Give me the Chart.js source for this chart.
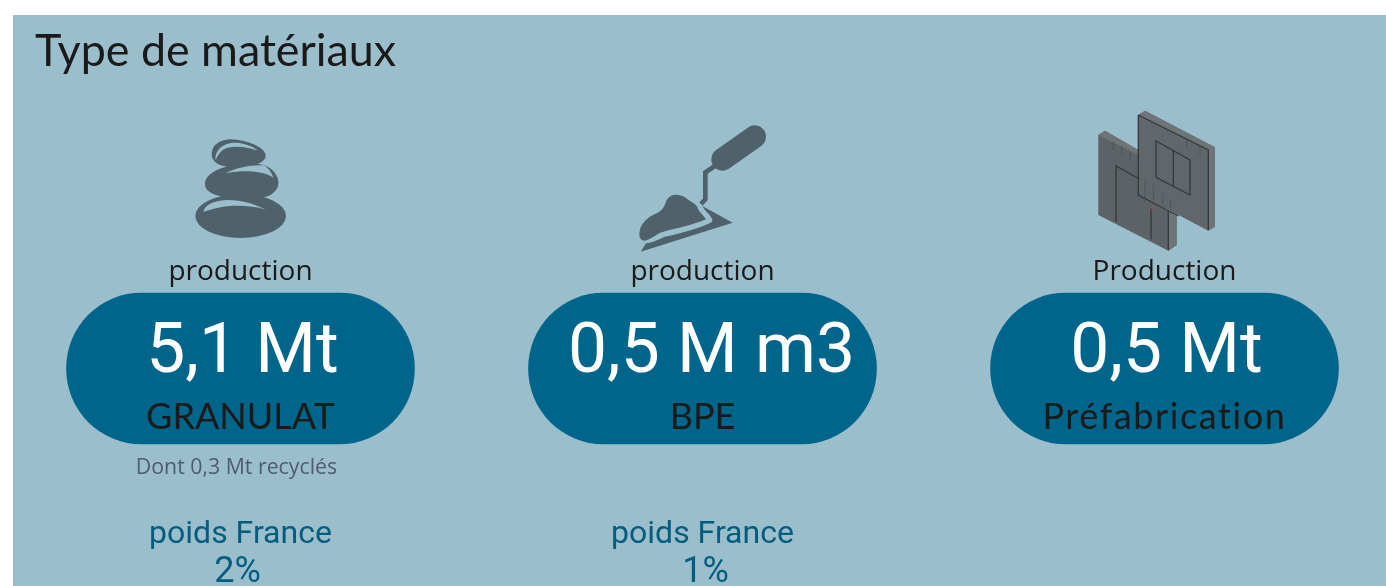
<!DOCTYPE html>
<html lang="fr">
<head>
<meta charset="utf-8">
<title>Type de matériaux</title>
<script src="https://cdn.jsdelivr.net/npm/chart.js@4"></script>
<style>
  html, body { margin: 0; background: #fff; overflow: hidden; }
  #chart { position: absolute; left: 13px; top: 15px; background: #9bbecd; }
</style>
</head>
<body>
<canvas id="chart" width="1373" height="571"></canvas>
<script>
const chartTitle = 'Type de matériaux';
const categories = ['GRANULAT', 'BPE', 'Préfabrication'];
const productionHeads = ['production', 'production', 'Production'];
const productionValues = [5.1, 0.5, 0.5];
const productionUnits = ['Mt', 'M m3', 'Mt'];
const pillFill = [1, 1, 1];
const notes = ['Dont 0,3 Mt recyclés', '', ''];
const weightLabel = 'poids France';
const weightFrance = [2, 1, null];

const panel = '#9bbecd';
const pill = '#00658b';
const iconDark = '#4f626b';
const SANS = '"Open Sans", sans-serif';
const LATO = 'Lato, sans-serif';
const ROBOTO = 'Roboto, sans-serif';

// the texts are not quite centred on the pills in the original
const valueNudge = [2, 9, 2];
const percentNudge = [-3, 3, 0];
const nameSpacing = ['0px', '0px', '1.6px'];

const fr = (n) => n.toLocaleString('fr-FR', { minimumFractionDigits: 1 });

// icons are traced by hand, coordinates are local to each icon
function stones(ctx) {
  ctx.fillStyle = iconDark;
  ctx.fill(new Path2D('M185 132C185 105 210 88 245 88C285 90 347 110 347 138C347 160 300 172 255 172C215 172 185 160 185 132Z'));
  ctx.fill(new Path2D('M165 222C165 195 200 175 240 168C290 155 345 155 372 185C392 210 392 240 355 258C310 275 220 265 190 252C172 243 165 235 165 222Z'));
  ctx.beginPath();
  ctx.ellipse(272, 318, 136, 66, 0, 0, Math.PI * 2);
  ctx.fill();
  ctx.fillStyle = panel;
  ctx.fill(new Path2D('M197 150C194 118 222 97 258 98C285 100 312 110 322 121C285 108 240 105 218 120C208 128 201 140 197 150Z'));
  ctx.fill(new Path2D('M228 190C255 172 310 163 342 166C356 174 366 190 370 203C345 185 290 178 228 190Z'));
  ctx.fill(new Path2D('M160 305C165 285 190 272 230 270C280 270 320 285 348 299C300 285 245 285 205 293C185 297 170 302 160 305Z'));
}

function trowel(ctx) {
  ctx.strokeStyle = iconDark;
  ctx.fillStyle = iconDark;
  ctx.lineCap = 'round';
  ctx.lineWidth = 68;
  ctx.beginPath();
  ctx.moveTo(308, 148);
  ctx.lineTo(404, 80);
  ctx.stroke();
  ctx.lineCap = 'butt';
  ctx.lineWidth = 14;
  ctx.beginPath();
  ctx.moveTo(285, 168);
  ctx.lineTo(256, 187);
  ctx.lineTo(256, 268);
  ctx.lineTo(243, 282);
  ctx.stroke();
  ctx.fill(new Path2D('M58 370C60 340 85 320 110 310C130 300 135 285 140 270C150 252 175 250 195 262C210 275 225 280 232 290C235 305 250 315 258 328C220 345 170 355 130 365C110 370 100 385 75 392C62 392 58 385 58 370Z'));
  ctx.fill(new Path2D('M247 288L338 338L62 425L78 400C100 398 120 385 135 380C180 370 240 355 277 335C280 320 255 305 247 288Z'));
}

function wallPanels(ctx) {
  ctx.fillStyle = '#5c6265';
  ctx.fill(new Path2D('M55 105L75 92L175 150L175 285L290 345L290 435L265 452L55 345Z'));
  ctx.fillStyle = '#60666a';
  ctx.fill(new Path2D('M175 45L195 32L405 142L405 380L385 392L290 342L175 285Z'));
  ctx.fillStyle = '#6f7477';
  ctx.fill(new Path2D('M385 150L405 142L405 380L385 392Z'));
  ctx.fill(new Path2D('M175 45L195 32L405 142L385 150Z'));
  ctx.fill(new Path2D('M55 105L75 92L175 150L175 165Z'));
  ctx.fill(new Path2D('M265 452L290 435L290 345L265 335Z'));
  ctx.strokeStyle = '#35393c';
  ctx.lineWidth = 4;
  ctx.stroke(new Path2D('M175 45L385 150L385 390M175 45L175 285L296 348M228 123L330 180L330 285L228 232ZM280 152L280 258M108 365L108 198L178 237M213 418L213 325M265 450L265 332'));
  ctx.strokeStyle = '#474c4f';
  ctx.lineWidth = 2;
  ctx.stroke(new Path2D('M100 125L100 150M125 140L125 165M150 155L150 185M320 120L320 140M360 140L360 165M195 235L195 305M220 255L220 300M248 280L248 312M272 300L272 330'));
  ctx.fillStyle = '#c8474e';
  ctx.fillRect(213, 320, 6, 6);
}

// where each icon crop sits on the canvas
const icons = [
  { draw: stones, x: 137, y: 95 },
  { draw: trowel, x: 607, y: 95 },
  { draw: wallPanels, x: 1067, y: 85 },
];

function put(ctx, text, x, y, font, color, align) {
  ctx.font = font;
  ctx.fillStyle = color;
  ctx.textAlign = align || 'center';
  ctx.textBaseline = 'alphabetic';
  ctx.fillText(text, x, y);
}

const infographic = {
  id: 'infographic',
  afterDatasetsDraw(chart) {
    const { ctx, chartArea } = chart;
    const top = chartArea.top;
    const bars = chart.getDatasetMeta(0).data;
    ctx.save();
    put(ctx, chartTitle, 22, 51, '44.8px ' + LATO, '#1a1a1a', 'left');
    icons.forEach((icon) => {
      ctx.save();
      ctx.translate(icon.x, icon.y);
      ctx.scale(1 / 3, 1 / 3);
      ctx.filter = 'blur(0.5px)'; // source picture is a soft bitmap
      icon.draw(ctx);
      ctx.restore();
    });
    bars.forEach((bar, i) => {
      put(ctx, productionHeads[i], bar.x, top - 13, '28px ' + SANS, '#1a1a1a');
      put(ctx, fr(productionValues[i]) + ' ' + productionUnits[i], bar.x + valueNudge[i], top + 79, '69.5px ' + ROBOTO, '#fff');
      ctx.letterSpacing = nameSpacing[i];
      put(ctx, categories[i], bar.x, top + 135.5, '36px ' + LATO, '#1a1a1a');
      ctx.letterSpacing = '0px';
      if (notes[i]) put(ctx, notes[i], bar.x - 4, top + 181, '21.3px ' + SANS, '#4f5b73');
      if (weightFrance[i] !== null) {
        put(ctx, weightLabel, bar.x, top + 250, '32px ' + ROBOTO, '#045d7e');
        put(ctx, weightFrance[i] + '%', bar.x + percentNudge[i], top + 289, '36px ' + ROBOTO, '#045d7e');
      }
    });
    ctx.restore();
  },
};

new Chart(document.getElementById('chart'), {
  type: 'bar',
  plugins: [infographic],
  data: {
    labels: categories,
    datasets: [{
      data: pillFill,
      backgroundColor: pill,
      barThickness: 348,
      borderRadius: 75.5,
      borderSkipped: false,
      clip: false,
    }],
  },
  options: {
    responsive: false,
    animation: false,
    layout: { padding: { left: 227.5, right: 221.5, top: 278, bottom: 142 } },
    plugins: { legend: { display: false }, tooltip: { enabled: false } },
    scales: {
      x: { display: false, offset: false },
      y: { display: false, min: 0, max: 1 },
    },
  },
});
</script>
</body>
</html>
